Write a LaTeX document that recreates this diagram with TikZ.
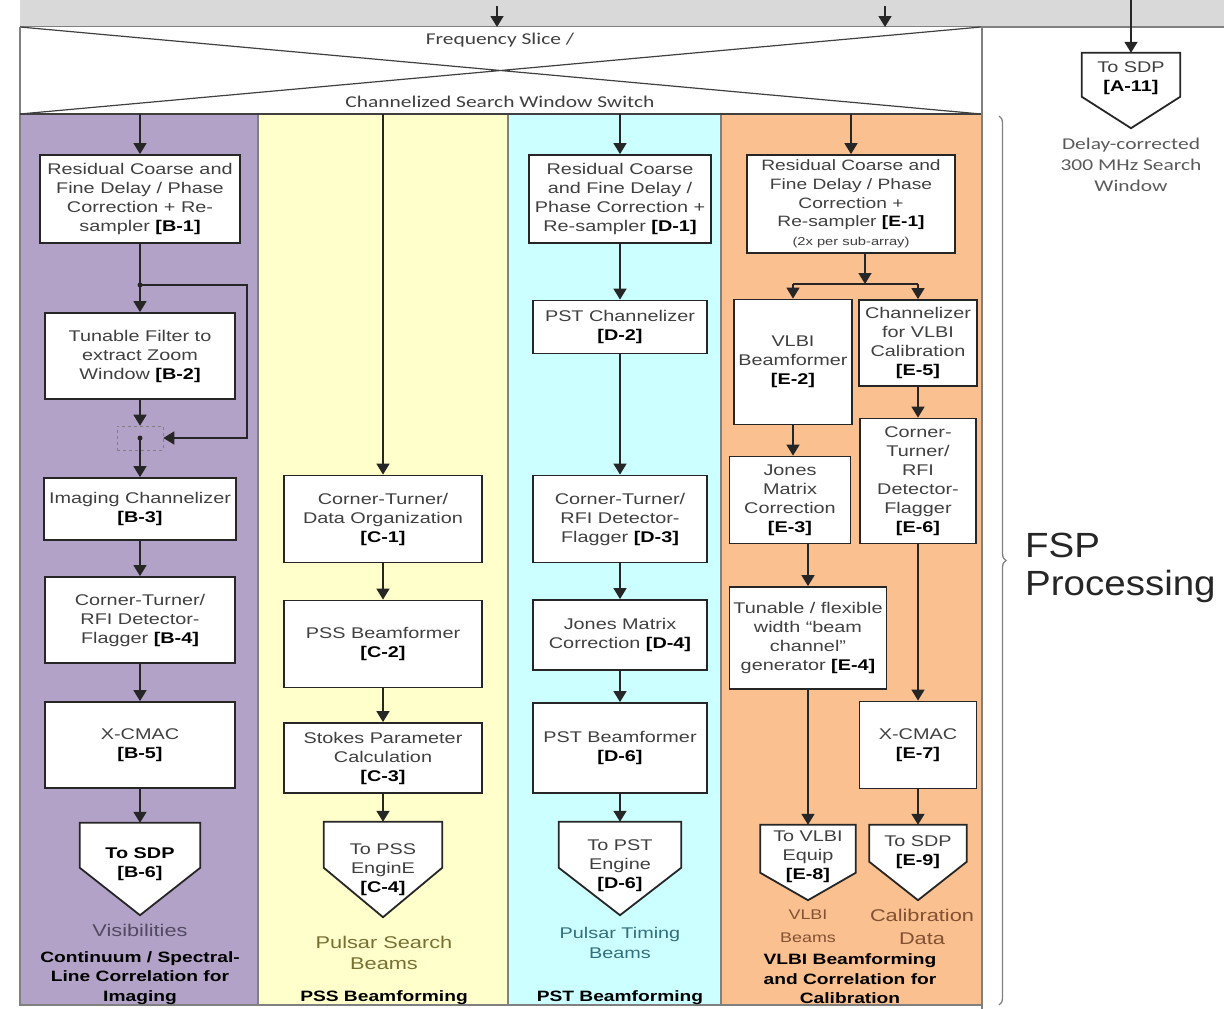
\documentclass[tikz,border=0pt]{standalone}
\usepackage{fontspec}
\setmainfont[FakeStretch=1.28]{Liberation Sans}
\newfontfamily\calfont[FakeStretch=1.3]{Carlito}
\newfontfamily\bigfont[FakeStretch=1.1]{Liberation Sans}
\usetikzlibrary{arrows.meta,decorations.pathreplacing,calc}
\pgfdeclarelayer{back}
\pgfdeclarelayer{mid}
\pgfsetlayers{back,mid,main}
\definecolor{purp}{RGB}{179,162,199}
\definecolor{yel}{RGB}{255,255,204}
\definecolor{cyn}{RGB}{204,255,255}
\definecolor{org}{RGB}{250,192,143}
\definecolor{bandgray}{RGB}{217,217,217}
\definecolor{txtgray}{RGB}{64,64,64}
\definecolor{edgegray}{RGB}{128,128,128}
\definecolor{vistxt}{RGB}{80,74,96}
\definecolor{psstxt}{RGB}{120,112,50}
\definecolor{psttxt}{RGB}{50,110,125}
\definecolor{vlbitxt}{RGB}{130,80,50}
\definecolor{paneltxt}{RGB}{90,90,90}
\newcommand{\refb}[1]{\textcolor{black}{\textbf{#1}}}
\newcommand{\pentshape}[3]{%
  \begin{pgfonlayer}{mid}
  \draw[line width=1.8pt, draw=black!85, fill=white]
    (#1.north west) -- (#1.north east) -- ($(#1.north east)+(0,#2)$)
    -- ($(#1.south)+(0,#3)$) -- ($(#1.north west)+(0,#2)$) -- cycle;
  \end{pgfonlayer}}
\begin{document}
\begin{tikzpicture}[x=1pt,y=-1pt,
  box/.style={draw=black!85, line width=1.8pt, fill=white, align=center, text=txtgray,
    font=\fontsize{15.5}{19}\selectfont, inner sep=1pt},
  pent/.style={align=center, text=txtgray, font=\fontsize{15.5}{19}\selectfont, inner sep=0pt},
  conn/.style={line width=1.6pt, draw=black!85, -{Triangle[width=13pt,length=11pt]}},
  plain/.style={line width=1.6pt, draw=black!85},
  lab/.style={align=center, inner sep=0pt},
  capt/.style={lab, font=\bfseries\fontsize{15}{19.5}\selectfont, text=black},
]
\useasboundingbox (0,0) rectangle (1224,1009);

\begin{pgfonlayer}{back}
  % top band
  \fill[bandgray] (20,0) rectangle (1224,27);
  \draw[edgegray, line width=1.5pt] (20,27) -- (1224,27);
  % switch
  \fill[white] (20,27) rectangle (981,114);
  \draw[black!75, line width=1.2pt] (20,27) -- (981,114) (20,114) -- (981,27);
  % columns
  \fill[purp] (20,114) rectangle (258,1005);
  \fill[yel] (258,114) rectangle (508,1005);
  \fill[cyn] (508,114) rectangle (721,1005);
  \fill[org] (721,114) rectangle (981,1005);
  \draw[edgegray, line width=1.5pt] (20,27) -- (20,1005) -- (981,1005);
  \draw[edgegray, line width=1.5pt] (258,114) -- (258,1005) (508,114) -- (508,1005) (721,114) -- (721,1005);
  \draw[black!75, line width=1.5pt] (20,114) -- (981,114);
  \draw[edgegray, line width=1.5pt] (982,27) -- (982,1009);
  \draw[edgegray, line width=1.3pt, decorate, decoration={brace, amplitude=7pt}] (999,116) -- (999,1005);
\end{pgfonlayer}

% switch labels
\node[lab, font=\calfont\fontsize{16.5}{20}\selectfont, text=txtgray] (fsl) at (500,40) {Frequency Slice /};
\node[lab, font=\calfont\fontsize{16.5}{20}\selectfont, text=txtgray] (cswl) at (500,102) {Channelized Search Window Switch};

% column B
\node[box, minimum width=200, minimum height=88] (b1) at (140,199) {Residual Coarse and\\Fine Delay / Phase\\Correction + Re-\\sampler \refb{[B-1]}};
\node[box, minimum width=190, minimum height=86] (b2) at (140,356) {Tunable Filter to\\extract Zoom\\Window \refb{[B-2]}};
\node[draw=edgegray, dashed, line width=0.6pt, minimum width=46, minimum height=24, inner sep=0pt] (mux) at (140,438) {};
\node[box, minimum width=192, minimum height=62] (b3) at (140,509) {Imaging Channelizer\\\refb{[B-3]}};
\node[box, minimum width=190, minimum height=86] (b4) at (140,620) {Corner-Turner/\\RFI Detector-\\Flagger \refb{[B-4]}};
\node[box, minimum width=190, minimum height=86] (b5) at (140,745) {X-CMAC\\\refb{[B-5]}};
\node[pent, minimum width=120, minimum height=82] (b6) at (140,864) {\refb{To SDP}\\\refb{[B-6]}};
\pentshape{b6}{45}{10}

% column C
\node[box, minimum width=198, minimum height=87] (c1) at (383,519) {Corner-Turner/\\Data Organization\\\refb{[C-1]}};
\node[box, minimum width=198, minimum height=87] (c2) at (383,644) {PSS Beamformer\\\refb{[C-2]}};
\node[box, minimum width=198, minimum height=70] (c3) at (383,758) {Stokes Parameter\\Calculation\\\refb{[C-3]}};
\node[pent, minimum width=118, minimum height=95] (c4) at (383,869.5) {To PSS\\EnginE\\\refb{[C-4]}};
\pentshape{c4}{46}{0}

% column D
\node[box, minimum width=182, minimum height=88] (d1) at (620,199) {Residual Coarse\\and Fine Delay /\\Phase Correction +\\Re-sampler \refb{[D-1]}};
\node[box, minimum width=174, minimum height=53] (d2) at (620,327) {PST Channelizer\\\refb{[D-2]}};
\node[box, minimum width=174, minimum height=87] (d3) at (620,519) {Corner-Turner/\\RFI Detector-\\Flagger \refb{[D-3]}};
\node[box, minimum width=174, minimum height=70] (d4) at (620,635) {Jones Matrix\\Correction \refb{[D-4]}};
\node[box, minimum width=174, minimum height=90] (d5) at (620,748) {PST Beamformer\\\refb{[D-6]}};
\node[pent, minimum width=122, minimum height=88] (d6) at (620,866) {To PST\\Engine\\\refb{[D-6]}};
\pentshape{d6}{46}{5}

% column E
\node[box, minimum width=208, minimum height=98, font=\fontsize{15}{18.7}\selectfont] (e1) at (851,204) {Residual Coarse and\\Fine Delay / Phase\\Correction +\\Re-sampler \refb{[E-1]}\\{\fontsize{11.5}{14}\selectfont(2x per sub-array)}};
\node[box, minimum width=118, minimum height=125] (e2) at (793,362) {VLBI\\Beamformer\\\refb{[E-2]}};
\node[box, minimum width=118, minimum height=86] (e5) at (918,343) {Channelizer\\for VLBI\\Calibration\\\refb{[E-5]}};
\node[box, minimum width=121, minimum height=87] (e3) at (790,500) {Jones\\Matrix\\Correction\\\refb{[E-3]}};
\node[box, minimum width=116, minimum height=125] (e6) at (918,481) {Corner-\\Turner/\\RFI\\Detector-\\Flagger\\\refb{[E-6]}};
\node[box, minimum width=157, minimum height=102] (e4) at (808,638) {Tunable / flexible\\width ``beam\\channel''\\generator \refb{[E-4]}};
\node[box, minimum width=117, minimum height=87] (e7) at (918,745) {X-CMAC\\\refb{[E-7]}};
\node[pent, minimum width=95, minimum height=64] (e8) at (808,857) {To VLBI\\Equip\\\refb{[E-8]}};
\pentshape{e8}{48}{11}
\node[pent, minimum width=97, minimum height=54] (e9) at (918,852) {To SDP\\\refb{[E-9]}};
\pentshape{e9}{37}{21}

% right panel
\node[pent, minimum width=98, minimum height=50] (a11) at (1131,78) {To SDP\\\refb{[A-11]}};
\pentshape{a11}{44}{25}
\node[lab, font=\calfont\fontsize{16.5}{21}\selectfont, text=paneltxt] (dcl) at (1131,165) {Delay-corrected\\300 MHz Search\\Window};
\node[lab, anchor=west, align=left, font=\bigfont\fontsize{35}{38}\selectfont, text=black!85] (fsp) at (1025,568) {FSP\\Processing};

% bottom labels
\node[lab, text=vistxt, font=\fontsize{17}{20}\selectfont] (visl) at (140,930) {Visibilities};
\node[capt] (bcap) at (140,978) {Continuum / Spectral-\\Line Correlation for\\Imaging};
\node[lab, text=psstxt, font=\fontsize{17}{21}\selectfont] (pssl) at (384,952.5) {Pulsar Search\\Beams};
\node[capt] (ccap) at (384,998) {PSS Beamforming};
\node[lab, text=psttxt, font=\fontsize{15.5}{20}\selectfont] (pstl) at (620,943) {Pulsar Timing\\Beams};
\node[capt] (dcap) at (620,998) {PST Beamforming};
\node[lab, text=vlbitxt, font=\fontsize{14}{23}\selectfont] (vlbil) at (808,926.5) {VLBI\\Beams};
\node[lab, text=vlbitxt, font=\fontsize{17}{23}\selectfont] (calil) at (922,926.5) {Calibration\\Data};
\node[capt] (ecap) at (850,979) {VLBI Beamforming\\and Correlation for\\Calibration};

% inputs from top
\coordinate (t1) at (497,6);
\coordinate (t1e) at (497,27);
\coordinate (t2) at (885,6);
\coordinate (t2e) at (885,27);
\coordinate (t3) at (1131,0);
\draw[conn] (t1) -- (t1e);
\draw[conn] (t2) -- (t2e);
\draw[conn] (t3) -- (a11.north);

% switch outputs
\coordinate (sb) at (140,114);
\coordinate (sc) at (383,114);
\coordinate (sd) at (620,114);
\coordinate (se) at (851,114);
\draw[conn] (sb) -- (b1.north);
\draw[conn] (sc) -- (c1.north);
\draw[conn] (sd) -- (d1.north);
\draw[conn] (se) -- (e1.north);

% column B flow
\coordinate (bd) at (140,285);
\draw[plain] (b1.south) -- (bd);
\draw[conn] (bd) -- (b2.north);
\draw[conn] (bd) -- ++(107,0) |- (mux.east);
\fill[black!85] (bd) circle (2.5);
\draw[conn] (b2.south) -- (mux.north);
\draw[conn] (mux.center) -- (b3.north);
\fill[black!85] (mux.center) circle (2.5);
\draw[conn] (b3.south) -- (b4.north);
\draw[conn] (b4.south) -- (b5.north);
\draw[conn] (b5.south) -- (b6.north);

% column C flow
\draw[conn] (c1.south) -- (c2.north);
\draw[conn] (c2.south) -- (c3.north);
\draw[conn] (c3.south) -- (c4.north);

% column D flow
\draw[conn] (d1.south) -- (d2.north);
\draw[conn] (d2.south) -- (d3.north);
\draw[conn] (d3.south) -- (d4.north);
\draw[conn] (d4.south) -- (d5.north);
\draw[conn] (d5.south) -- (d6.north);

% column E flow
\coordinate (ej) at (865,284);
\draw[conn] (e1.south -| ej) -- (ej);
\draw[plain] (e2.north |- ej) -- (e5.north |- ej);
\draw[conn] (e2.north |- ej) -- (e2.north);
\draw[conn] (e5.north |- ej) -- (e5.north);
\draw[conn] (e2.south) -- (e2.south |- e3.north);
\draw[conn] (e4.north |- e3.south) -- (e4.north);
\draw[conn] (e4.south) -- (e8.north);
\draw[conn] (e5.south) -- (e5.south |- e6.north);
\draw[conn] (e6.south) -- (e6.south |- e7.north);
\draw[conn] (e7.south) -- (e9.north);
\end{tikzpicture}
\end{document}
